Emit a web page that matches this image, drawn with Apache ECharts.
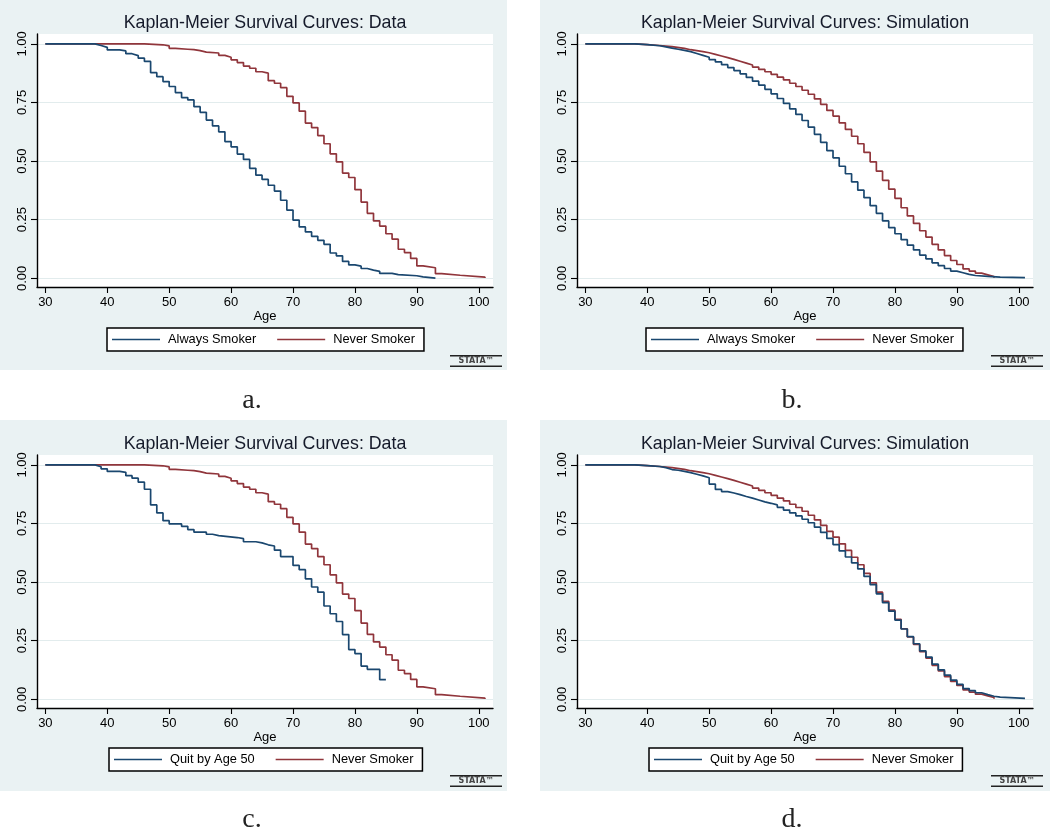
<!DOCTYPE html>
<html>
<head>
<meta charset="utf-8">
<script src="https://cdn.jsdelivr.net/npm/echarts@6/dist/echarts.min.js"></script>
<style>
html,body{margin:0;padding:0;background:#fff;}
#chart{width:1050px;height:829px;}
</style>
</head>
<body>
<div id="chart"></div>
<script>
// ---------------- DATA ----------------
const xTicks = [30, 40, 50, 60, 70, 80, 90, 100];
const yTicks = [0, 0.25, 0.5, 0.75, 1];
const titles = ['Kaplan-Meier Survival Curves: Data', 'Kaplan-Meier Survival Curves: Simulation',
                'Kaplan-Meier Survival Curves: Data', 'Kaplan-Meier Survival Curves: Simulation'];
const captions = ['a.', 'b.', 'c.', 'd.'];
const xAxisName = 'Age';

// Panel a / c : Never Smoker (data)
const neverSmokerData = [[30,1],[46,0.996],[49,0.991],[50,0.981],[51,0.977],[53,0.975],[54,0.971],[55,0.965],[56,0.961],[58,0.951],[59,0.943],[60,0.932],[61,0.920],[62,0.905],[63,0.896],[64,0.881],[65,0.875],[66,0.843],[67,0.832],[68,0.813],[69,0.776],[70,0.748],[71,0.713],[72,0.662],[73,0.643],[74,0.609],[75,0.574],[76,0.531],[77,0.497],[78,0.449],[79,0.430],[80,0.378],[81,0.325],[82,0.277],[83,0.245],[84,0.223],[85,0.190],[86,0.167],[87,0.124],[88,0.110],[89,0.085],[90,0.053],[91,0.045],[93,0.020],[94,0.013],[97,0.005],[101,0.001]];
// Panel a : Always Smoker (data)
const alwaysSmokerData = [[30,1],[38,0.993],[39,0.985],[40,0.974],[42,0.970],[43,0.958],[44,0.950],[45,0.939],[46,0.925],[47,0.877],[48,0.860],[49,0.839],[50,0.818],[51,0.792],[52,0.771],[53,0.761],[54,0.732],[55,0.708],[56,0.675],[57,0.650],[58,0.625],[59,0.583],[60,0.561],[61,0.530],[62,0.507],[63,0.469],[64,0.440],[65,0.422],[66,0.397],[67,0.372],[68,0.333],[69,0.291],[70,0.248],[71,0.219],[72,0.198],[73,0.179],[74,0.162],[75,0.145],[76,0.108],[77,0.096],[78,0.072],[79,0.057],[80,0.052],[81,0.042],[82,0.035],[83,0.030],[84,0.021],[86,0.016],[87,0.011],[90,0.006],[91,0.001],[93,0.001]];
// Panel c : Quit by Age 50 (data)
const quitBy50Data = [[30,1],[38,0.992],[39,0.983],[40,0.972],[42,0.968],[43,0.954],[44,0.943],[45,0.926],[46,0.896],[47,0.829],[48,0.795],[49,0.762],[50,0.748],[52,0.738],[53,0.724],[54,0.713],[56,0.704],[57,0.698],[58,0.690],[61,0.685],[62,0.672],[64,0.667],[65,0.659],[66,0.654],[67,0.636],[68,0.609],[70,0.571],[71,0.553],[72,0.514],[73,0.479],[74,0.457],[75,0.398],[76,0.365],[77,0.332],[78,0.276],[79,0.212],[80,0.195],[81,0.142],[82,0.128],[84,0.084],[85,0.084]];
// Panel b / d : Never Smoker (simulation)
const neverSmokerSim = [[30,1],[38,0.997],[40,0.993],[42,0.988],[44,0.981],[46,0.975],[47,0.971],[48,0.967],[49,0.962],[50,0.955],[51,0.948],[52,0.941],[53,0.934],[54,0.926],[55,0.918],[56,0.910],[57,0.901],[58,0.891],[59,0.881],[60,0.870],[61,0.858],[62,0.846],[63,0.832],[64,0.818],[65,0.802],[66,0.785],[67,0.765],[68,0.742],[69,0.716],[70,0.692],[71,0.663],[72,0.635],[73,0.606],[74,0.574],[75,0.537],[76,0.497],[77,0.457],[78,0.418],[79,0.380],[80,0.341],[81,0.301],[82,0.266],[83,0.234],[84,0.203],[85,0.176],[86,0.145],[87,0.121],[88,0.097],[89,0.076],[90,0.059],[91,0.040],[92,0.031],[93,0.022],[94,0.015],[95,0.008],[96,0.002]];
// Panel b : Always Smoker (simulation)
const alwaysSmokerSim = [[30,1],[38,0.997],[40,0.992],[42,0.987],[43,0.982],[44,0.977],[45,0.972],[46,0.967],[47,0.959],[48,0.951],[49,0.943],[50,0.933],[51,0.923],[52,0.911],[53,0.899],[54,0.886],[55,0.872],[56,0.857],[57,0.841],[58,0.824],[59,0.806],[60,0.787],[61,0.767],[62,0.746],[63,0.723],[64,0.699],[65,0.673],[66,0.645],[67,0.614],[68,0.580],[69,0.545],[70,0.514],[71,0.478],[72,0.446],[73,0.411],[74,0.376],[75,0.344],[76,0.310],[77,0.277],[78,0.245],[79,0.216],[80,0.190],[81,0.165],[82,0.142],[83,0.121],[84,0.099],[85,0.083],[86,0.066],[87,0.054],[88,0.042],[89,0.031],[90,0.024],[91,0.017],[92,0.012],[93,0.008],[95,0.005],[97,0.003],[101,0.003]];
// Panel d : Quit by Age 50 (simulation)
const quitBy50Sim = [[30,1],[38,0.997],[40,0.993],[42,0.988],[43,0.980],[44,0.977],[45,0.972],[46,0.967],[47,0.960],[48,0.953],[49,0.945],[50,0.918],[51,0.895],[52,0.886],[53,0.880],[54,0.873],[55,0.865],[56,0.858],[57,0.850],[58,0.842],[59,0.836],[60,0.829],[61,0.819],[62,0.807],[63,0.795],[64,0.782],[65,0.768],[66,0.753],[67,0.734],[68,0.712],[69,0.686],[70,0.660],[71,0.633],[72,0.607],[73,0.582],[74,0.556],[75,0.524],[76,0.489],[77,0.450],[78,0.412],[79,0.376],[80,0.338],[81,0.300],[82,0.267],[83,0.237],[84,0.207],[85,0.180],[86,0.150],[87,0.126],[88,0.103],[89,0.082],[90,0.064],[91,0.046],[92,0.037],[93,0.028],[94,0.020],[95,0.013],[96,0.009],[97,0.004],[101,0.003]];

const panelSeries = [
  [{name:'Always Smoker', data: alwaysSmokerData}, {name:'Never Smoker', data: neverSmokerData}],
  [{name:'Always Smoker', data: alwaysSmokerSim},  {name:'Never Smoker', data: neverSmokerSim}],
  [{name:'Quit by Age 50', data: quitBy50Data},    {name:'Never Smoker', data: neverSmokerData}],
  [{name:'Quit by Age 50', data: quitBy50Sim},     {name:'Never Smoker', data: neverSmokerSim}]
];

// ---------------- LAYOUT / STYLE ----------------
const BLUE = '#1a476f', RED = '#90353b', BG = '#eaf2f3';
const FONT = '"Liberation Sans", Arial, sans-serif';
const layout = [
  {gl:37,  gt:34,  bx:0,   by:0,   bw:507, bh:370, tx:265, ty:23,  ll:107, lt:328, lx:450, ly:355, cx:252, cy:401},
  {gl:577, gt:34,  bx:540, by:0,   bw:510, bh:370, tx:805, ty:23,  ll:646, lt:328, lx:991, ly:355, cx:792, cy:401},
  {gl:37,  gt:455, bx:0,   by:420, bw:507, bh:371, tx:265, ty:444, ll:109, lt:748, lx:450, ly:775, cx:252, cy:820},
  {gl:577, gt:455, bx:540, by:420, bw:510, bh:371, tx:805, ty:444, ll:649, lt:748, lx:991, ly:775, cx:792, cy:820}
];

const grids = [], xAxes = [], yAxes = [], series = [], legends = [], graphics = [];
layout.forEach((p, i) => {
  grids.push({left:p.gl, top:p.gt, width:456, height:253, show:true, backgroundColor:'#fff', borderWidth:0, containLabel:false});
  xAxes.push({
    type:'value', gridIndex:i, min:28.65, max:102.3,
    name:xAxisName, nameLocation:'middle', nameGap:22,
    nameTextStyle:{fontFamily:FONT, fontSize:13, color:'#000'},
    axisLine:{show:true, onZero:false, lineStyle:{color:'#000', width:1.4}},
    axisTick:{show:true, length:6, customValues:xTicks, lineStyle:{color:'#000', width:1.1}},
    axisLabel:{customValues:xTicks, fontFamily:FONT, fontSize:13, color:'#000', margin:9},
    splitLine:{show:false}
  });
  yAxes.push({
    type:'value', gridIndex:i, min:-0.037, max:1.042,
    axisLine:{show:true, onZero:false, lineStyle:{color:'#000', width:1.4}},
    axisTick:{show:true, length:6, customValues:yTicks, lineStyle:{color:'#000', width:1.1}},
    axisLabel:{customValues:yTicks, rotate:90, fontFamily:FONT, fontSize:13, color:'#000', margin:8,
               formatter: v => v.toFixed(2)},
    splitLine:{show:true, lineStyle:{color:'#e2eced', width:1.2}}
  });
  const names = [];
  panelSeries[i].forEach((s, k) => {
    names.push(s.name);
    series.push({
      type:'line', name:s.name, xAxisIndex:i, yAxisIndex:i, data:s.data,
      step:'end', symbol:'none', showSymbol:false,
      color: k === 0 ? BLUE : RED,
      lineStyle:{width:1.7, color: k === 0 ? BLUE : RED},
      z: k === 0 ? 3 : 2, silent:true
    });
  });
  legends.push({
    data:names, left:p.ll, top:p.lt, orient:'horizontal',
    icon:'rect', itemWidth:48, itemHeight:1.7, itemGap:21,
    padding:[5, 9, 5, 5], borderColor:'#000', borderWidth:1.5, backgroundColor:'#fff',
    textStyle:{fontFamily:FONT, fontSize:12.8, color:'#000', padding:[0,0,0,3]},
    selectedMode:false
  });
  // panel background
  graphics.push({type:'rect', z:-10, silent:true, shape:{x:p.bx, y:p.by, width:p.bw, height:p.bh}, style:{fill:BG}});
  // title
  graphics.push({type:'text', z:10, x:p.tx, y:p.ty, style:{text:titles[i], fontFamily:FONT, fontSize:17.8, fill:'#151a2a', align:'center', verticalAlign:'middle'}});
  // stata logo
  graphics.push({type:'rect', z:10, shape:{x:p.lx, y:p.ly, width:52, height:1.4}, style:{fill:'#222'}});
  graphics.push({type:'rect', z:10, shape:{x:p.lx, y:p.ly+10.5, width:52, height:1.4}, style:{fill:'#222'}});
  graphics.push({type:'text', z:10, x:p.lx+26, y:p.ly+6.3, style:{text:'STATA\u2122', fontFamily:'"DejaVu Sans", sans-serif', fontSize:8, fontWeight:'bold', fill:'#444', align:'center', verticalAlign:'middle'}});
  // caption
  graphics.push({type:'text', z:10, x:p.cx, y:p.cy, style:{text:captions[i], fontFamily:'"Liberation Serif", "DejaVu Serif", serif', fontSize:28, fill:'#222', align:'center', verticalAlign:'middle'}});
});

const chart = echarts.init(document.getElementById('chart'), null, {renderer:'canvas'});
chart.setOption({
  animation:false,
  backgroundColor:'#fff',
  grid:grids, xAxis:xAxes, yAxis:yAxes, series:series, legend:legends, graphic:graphics,
  tooltip:{show:false}
});
</script>
</body>
</html>
